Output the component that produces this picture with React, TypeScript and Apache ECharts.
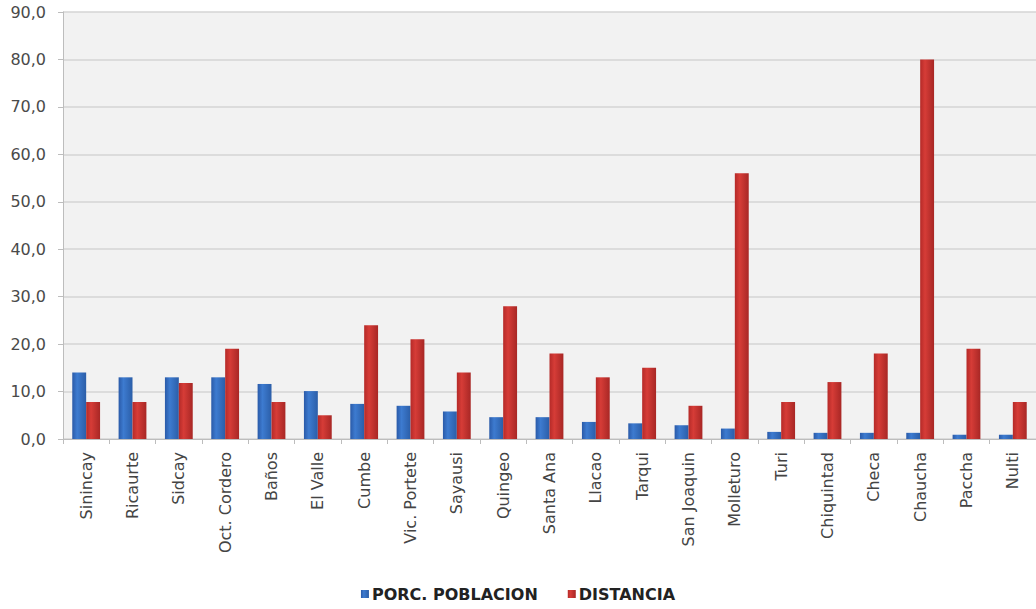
import React, { useEffect, useRef } from "react";
import * as echarts from "echarts";

const categories = [
  "Sinincay", "Ricaurte", "Sidcay", "Oct. Cordero", "Baños", "El Valle", "Cumbe",
  "Vic. Portete", "Sayausi", "Quingeo", "Santa Ana", "Llacao", "Tarqui",
  "San Joaquin", "Molleturo", "Turi", "Chiquintad", "Checa", "Chaucha", "Paccha", "Nulti",
];
const poblacion = [14.0, 13.0, 13.0, 13.0, 11.6, 10.1, 7.4, 7.0, 5.8, 4.6, 4.6, 3.6, 3.3, 2.9, 2.2, 1.5, 1.3, 1.3, 1.3, 0.9, 0.9];
const distancia = [7.8, 7.8, 11.8, 19.0, 7.8, 5.0, 24.0, 21.0, 14.0, 28.0, 18.0, 13.0, 15.0, 7.0, 56.0, 7.8, 12.0, 18.0, 80.0, 19.0, 7.8];
const seriesNames = ["PORC. POBLACION", "DISTANCIA"];

const blueGrad = new echarts.graphic.LinearGradient(0, 0, 1, 0, [
  { offset: 0, color: "#2a5aa8" },
  { offset: 0.35, color: "#3d7bd0" },
  { offset: 1, color: "#2b5ea8" },
]);
const redGrad = new echarts.graphic.LinearGradient(0, 0, 1, 0, [
  { offset: 0, color: "#b52a28" },
  { offset: 0.35, color: "#d63c37" },
  { offset: 1, color: "#a82725" },
]);

export default function App() {
  const ref = useRef<HTMLDivElement>(null);
  useEffect(() => {
    document.body.style.margin = "0";
    const chart = echarts.init(ref.current!, null, { renderer: "svg" });
    chart.setOption({
      animation: false,
      backgroundColor: "#ffffff",
      grid: {
        left: 63,
        right: 0,
        top: 12,
        bottom: 170,
        show: true,
        backgroundColor: "#f2f2f2",
        borderWidth: 0,
      },
      legend: {
        bottom: 2,
        left: "center",
        icon: "rect",
        itemWidth: 8,
        itemHeight: 8,
        itemGap: 30,
        textStyle: { fontFamily: "DejaVu Sans, sans-serif", fontWeight: "bold", fontSize: 16, color: "#222", padding: [0, 0, 0, -2] },
        data: seriesNames,
      },
      xAxis: {
        type: "category",
        data: categories,
        axisLine: { show: true, lineStyle: { color: "#bdbdbd", width: 1 } },
        axisTick: { show: true, alignWithLabel: false, length: 5, lineStyle: { color: "#bdbdbd" } },
        axisLabel: {
          rotate: 90,
          margin: 13,
          interval: 0,
          fontFamily: "DejaVu Sans, sans-serif",
          fontSize: 16,
          color: "#444",
        },
      },
      yAxis: {
        type: "value",
        min: 0,
        max: 90,
        interval: 10,
        axisLine: { show: true, lineStyle: { color: "#bdbdbd", width: 1 } },
        axisTick: { show: true, length: 5, lineStyle: { color: "#bdbdbd" } },
        splitLine: { show: true, lineStyle: { color: "#d4d4d4", width: 1.5 } },
        axisLabel: {
          margin: 17,
          fontFamily: "DejaVu Sans, sans-serif",
          fontSize: 16,
          color: "#4a4a4a",
          formatter: (v: number) => v.toFixed(1).replace(".", ","),
        },
      },
      series: [
        {
          name: seriesNames[0],
          type: "bar",
          data: poblacion,
          barGap: "0%",
          barCategoryGap: "40%",
          itemStyle: { color: blueGrad },
        },
        {
          name: seriesNames[1],
          type: "bar",
          data: distancia,
          barGap: "0%",
          barCategoryGap: "40%",
          itemStyle: { color: redGrad },
        },
      ],
    });
    return () => chart.dispose();
  }, []);
  return <div ref={ref} style={{ width: 1036, height: 609 }} />;
}
